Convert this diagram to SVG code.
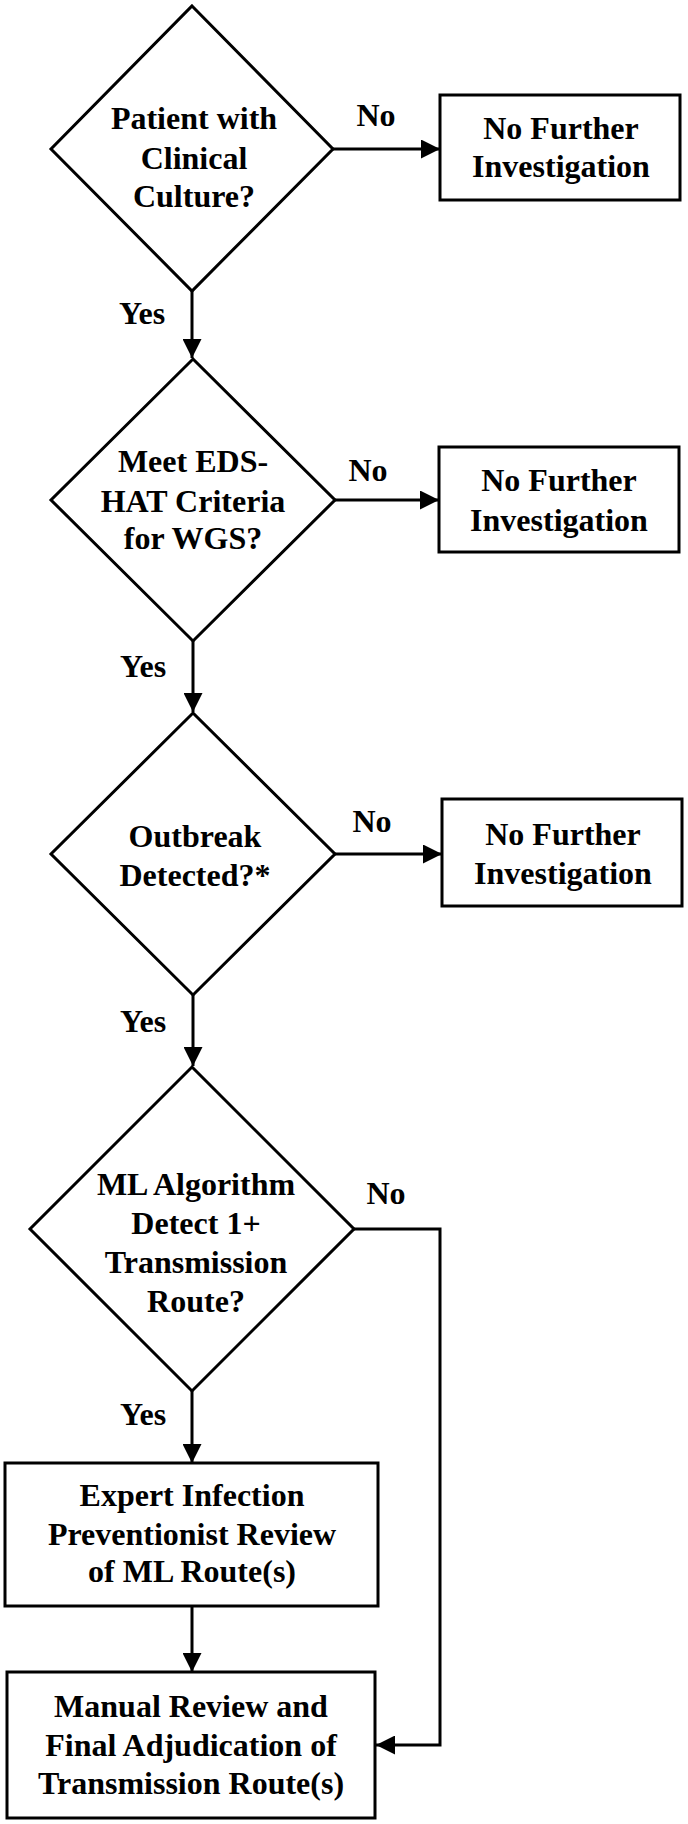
<svg xmlns="http://www.w3.org/2000/svg" width="688" height="1824" viewBox="0 0 688 1824">
<style>
.shape{fill:#fff;stroke:#000;stroke-width:3}
.t{font-family:"Liberation Serif","Times New Roman",serif;font-weight:bold;font-size:32px;fill:#000;text-anchor:middle}
.c{fill:none;stroke:#000;stroke-width:3}
</style>
<defs>
<marker id="ah" viewBox="0 0 20 20" refX="20" refY="10" markerWidth="20" markerHeight="19" markerUnits="userSpaceOnUse" orient="auto">
<path d="M0,0 L20,10 L0,20 z" fill="#000"/>
</marker>
</defs>
<rect width="688" height="1824" fill="#fff"/>
<g id="connectors">
<line class="c" x1="333" y1="149" x2="440" y2="149" marker-end="url(#ah)"/>
<line class="c" x1="192" y1="291" x2="192" y2="358" marker-end="url(#ah)"/>
<line class="c" x1="335" y1="500" x2="439" y2="500" marker-end="url(#ah)"/>
<line class="c" x1="193" y1="641" x2="193" y2="712" marker-end="url(#ah)"/>
<line class="c" x1="335" y1="854" x2="442" y2="854" marker-end="url(#ah)"/>
<line class="c" x1="193" y1="995" x2="193" y2="1066" marker-end="url(#ah)"/>
<line class="c" x1="192" y1="1391" x2="192" y2="1463" marker-end="url(#ah)"/>
<line class="c" x1="192" y1="1606" x2="192" y2="1672" marker-end="url(#ah)"/>
<polyline class="c" points="354,1229 440,1229 440,1745 376,1745" marker-end="url(#ah)"/>
<text class="t" x="376" y="126">No</text>
<text class="t" x="142" y="324">Yes</text>
<text class="t" x="368" y="481">No</text>
<text class="t" x="143" y="677">Yes</text>
<text class="t" x="372" y="832">No</text>
<text class="t" x="143" y="1032">Yes</text>
<text class="t" x="386" y="1204">No</text>
<text class="t" x="143" y="1425">Yes</text>
</g>
<g id="d1">
<polygon class="shape" points="192,6 333,149 192,291 51,149"/>
<text class="t" x="194" y="129">Patient with</text>
<text class="t" x="194" y="169">Clinical</text>
<text class="t" x="194" y="207">Culture?</text>
</g>
<g id="b1">
<rect class="shape" x="440" y="95" width="240" height="105"/>
<text class="t" x="561" y="139">No Further</text>
<text class="t" x="561" y="177">Investigation</text>
</g>
<g id="d2">
<polygon class="shape" points="193,359 335,500 193,641 51,500"/>
<text class="t" x="193" y="472">Meet EDS-</text>
<text class="t" x="193" y="512">HAT Criteria</text>
<text class="t" x="193" y="549">for WGS?</text>
</g>
<g id="b2">
<rect class="shape" x="439" y="447" width="240" height="105"/>
<text class="t" x="559" y="491">No Further</text>
<text class="t" x="559" y="531">Investigation</text>
</g>
<g id="d3">
<polygon class="shape" points="193,713 335,854 193,995 51,854"/>
<text class="t" x="195" y="847">Outbreak</text>
<text class="t" x="195" y="886">Detected?*</text>
</g>
<g id="b3">
<rect class="shape" x="442" y="799" width="240" height="107"/>
<text class="t" x="563" y="845">No Further</text>
<text class="t" x="563" y="884">Investigation</text>
</g>
<g id="d4">
<polygon class="shape" points="192,1067 354,1229 192,1391 30,1229"/>
<text class="t" x="196" y="1195">ML Algorithm</text>
<text class="t" x="196" y="1234">Detect 1+</text>
<text class="t" x="196" y="1273">Transmission</text>
<text class="t" x="196" y="1312">Route?</text>
</g>
<g id="b5">
<rect class="shape" x="5" y="1463" width="373" height="143"/>
<text class="t" x="192" y="1506">Expert Infection</text>
<text class="t" x="192" y="1545">Preventionist Review</text>
<text class="t" x="192" y="1582">of ML Route(s)</text>
</g>
<g id="b6">
<rect class="shape" x="7" y="1672" width="368" height="146"/>
<text class="t" x="191" y="1717">Manual Review and</text>
<text class="t" x="191" y="1756">Final Adjudication of</text>
<text class="t" x="191" y="1794">Transmission Route(s)</text>
</g>
</svg>
